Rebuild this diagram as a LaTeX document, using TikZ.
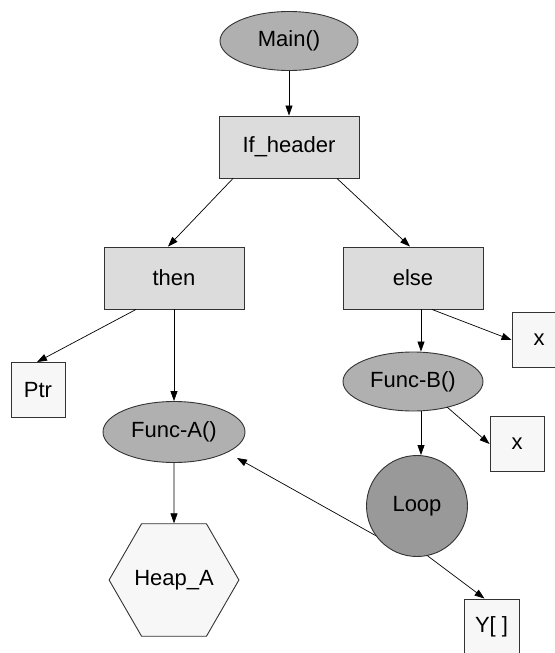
\documentclass[tikz,border=0pt]{standalone}
\usepackage{fontspec}
\setmainfont{Liberation Sans}
\usetikzlibrary{arrows.meta,shapes.geometric,backgrounds}
\definecolor{ovalgray}{HTML}{B0B0B0}
\definecolor{loopgray}{HTML}{999999}
\definecolor{blockgray}{HTML}{DCDCDC}
\definecolor{leafgray}{HTML}{F7F7F7}
\definecolor{edgegray}{HTML}{333333}
\begin{document}
\begin{tikzpicture}[x=1pt,y=-1pt,
  every node/.style={font=\fontsize{22}{26}\selectfont, text=black, inner sep=0pt, draw=edgegray, line width=0.9pt},
  oval/.style={ellipse, fill=ovalgray, minimum width=138pt, minimum height=59pt},
  block/.style={rectangle, fill=blockgray, minimum width=140pt, minimum height=62pt},
  leaf/.style={rectangle, fill=leafgray, minimum width=54pt, minimum height=55pt},
  loopnode/.style={circle, fill=loopgray, minimum size=101pt},
  heapnode/.style={regular polygon, regular polygon sides=6, fill=leafgray, minimum size=109pt},
  link/.style={draw=black, line width=0.7pt, -{Triangle[length=10pt,width=7pt]}}]
\useasboundingbox (0,0) rectangle (554,653);

% nodes
\node[oval] (main) at (289,41) {Main()};
\node[block] (ifh) at (289,147) {If\_header};
\node[block] (then) at (174,278) {then};
\node[block] (else) at (413,278) {else};
\node[leaf] (ptr) at (38,390) {Ptr};
\node[oval, minimum width=142pt, minimum height=61pt] (funca) at (174,432) {Func-A()};
\node[heapnode] (heap) at (174,580) {Heap\_A};
\node[oval, minimum width=140pt] (funcb) at (413,381.5) {Func-B()};
\node[leaf] (xa) at (539,340) {x};
\node[leaf] (xb) at (517,444) {x};
\node[loopnode] (loop) at (417,506) {Loop};
\node[leaf, minimum width=55pt, minimum height=56pt] (arr) at (491.5,627) {Y[ ]};

% edges
\draw[link] (main) -- (ifh);
\draw[link] ([xshift=-56pt]ifh.south) -- ([xshift=-6pt]then.north);
\draw[link] ([xshift=48pt]ifh.south) -- ([xshift=-3pt]else.north);
\draw[link] ([xshift=-38pt]then.south) -- ([xshift=-1pt]ptr.north);
\draw[link] (then.south) -- (funca.north);
\draw[link] ([xshift=8pt]else.south) -- ([xshift=8pt]funcb.north);
\draw[link] ([xshift=19pt]else.south) -- (xa.west);
\draw[link] ([shift={(34,25.5)}]funcb.center) -- (xb.west);
\draw[link] ([xshift=8pt]funcb.south) -- ([xshift=4pt]loop.north);
\draw[link] (loop.-78) -- ([xshift=-7pt]arr.north);
\draw[link] (funca.south) -- (heap.north);

% edge passing behind the Loop circle
\begin{pgfonlayer}{background}
\coordinate (hidden) at ([shift={(-12,46)}]loop.center);
\draw[link] (hidden) -- ([shift={(63,26)}]funca.center);
\end{pgfonlayer}
\end{tikzpicture}
\end{document}
